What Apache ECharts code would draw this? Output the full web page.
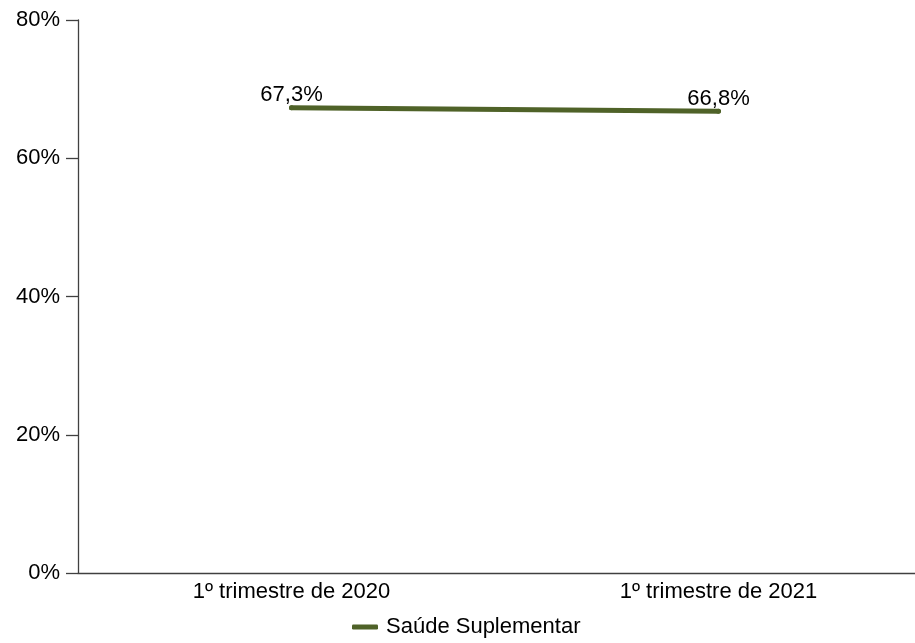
<!DOCTYPE html>
<html>
<head>
<meta charset="utf-8">
<script src="https://cdn.jsdelivr.net/npm/echarts@6/dist/echarts.min.js"></script>
<style>
html,body{margin:0;padding:0;background:#fff;}
#chart{width:915px;height:643px;}
</style>
</head>
<body>
<div id="chart"></div>
<script>
const categories = ['1º trimestre de 2020', '1º trimestre de 2021'];
const seriesName = 'Saúde Suplementar';
const values = [67.3, 66.8];
const yTicks = [0, 20, 40, 60, 80];

const FONT = '"Liberation Sans", Arial, sans-serif';
const FS = 22;
const GREEN = '#4F6228';
const chart = echarts.init(document.getElementById('chart'));
chart.setOption({
  animation: false,
  textStyle: { fontFamily: FONT },
  grid: { left: 78, top: 20, bottom: 70, width: 854, containLabel: false, outerBoundsMode: 'none' },
  legend: {
    data: [seriesName],
    bottom: 0,
    left: 347,
    icon: 'roundRect',
    itemWidth: 26,
    itemHeight: 5,
    itemStyle: { color: GREEN, opacity: 1 },
    textStyle: { fontFamily: FONT, fontSize: FS, color: '#000', padding: [0, 0, 0, 3] }
  },
  xAxis: {
    type: 'category',
    data: categories,
    boundaryGap: true,
    axisLine: { lineStyle: { color: '#404040', width: 1.3 } },
    axisTick: { show: false },
    axisLabel: { color: '#000', fontSize: FS, fontFamily: FONT, margin: 8 },
    splitLine: { show: false }
  },
  yAxis: {
    type: 'value',
    min: yTicks[0],
    max: yTicks[yTicks.length - 1],
    interval: 20,
    axisLine: { show: true, lineStyle: { color: '#404040', width: 1.3 } },
    axisTick: { show: true, length: 12, lineStyle: { color: '#404040', width: 1.3 } },
    axisLabel: { color: '#000', fontSize: FS, fontFamily: FONT, margin: 18, formatter: function (v) { return v + '%'; } },
    splitLine: { show: false }
  },
  series: [{
    name: seriesName,
    type: 'line',
    data: values,
    symbol: 'circle',
    symbolSize: 5,
    showSymbol: true,
    itemStyle: { color: GREEN },
    color: GREEN,
    lineStyle: { width: 5, color: GREEN, cap: 'round' },
    label: {
      show: true,
      position: 'top',
      distance: -1,
      color: '#000',
      fontSize: FS,
      fontFamily: FONT,
      formatter: function (p) { return String(values[p.dataIndex].toFixed(1)).replace('.', ',') + '%'; }
    }
  }]
});
</script>
</body>
</html>
